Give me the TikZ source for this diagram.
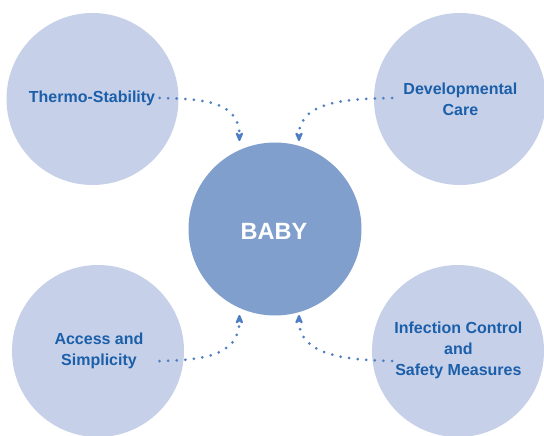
\documentclass[tikz,border=0pt]{standalone}
\usepackage{fontspec}
\setmainfont{Liberation Sans}
\usetikzlibrary{arrows.meta}
\definecolor{outerfill}{HTML}{C6D0E8}
\definecolor{innerfill}{HTML}{819FCC}
\definecolor{labelblue}{HTML}{1B5FAA}
\definecolor{arrowblue}{HTML}{4F7FC2}
\tikzset{
  outercircle/.style={circle, fill=outerfill, draw=none, minimum size=172pt, inner sep=0pt},
  innercircle/.style={circle, fill=innerfill, draw=none, minimum size=173pt, inner sep=0pt},
  lbl/.style={text=labelblue, font=\fontsize{16}{21}\selectfont\bfseries, align=center, inner sep=0pt},
  dotarrow/.style={arrowblue, line width=3pt, line cap=round, dash pattern=on 0pt off 8.6pt,
    -{Stealth[length=12pt, width=10pt, inset=4pt, round=false, line cap=butt]}}
}
\begin{document}
\begin{tikzpicture}[x=1pt, y=-1pt]
\clip (0,0) rectangle (544,436);
\fill[white] (0,0) rectangle (544,436);
% circles
\node[outercircle] (c1) at (92.5,99) {};
\node[outercircle] (c2) at (460,99) {};
\node[outercircle] (c3) at (98,351) {};
\node[outercircle] (c4) at (458,351) {};
\node[innercircle] (baby) at (275,229) {};
\node[text=white, font=\fontsize{23.5}{26}\selectfont\bfseries, inner sep=0pt] (babytxt) at (274,231) {BABY};
% labels
\node[lbl] (thermo) at (92,98) {Thermo-Stability};
\node[lbl] (dev) at (460.4,99) {Developmental\\Care};
\node[lbl] (access) at (99,351) {Access and\\Simplicity};
\node[lbl] (infect) at (458.4,350.5) {Infection Control\\and\\Safety Measures};
% connector anchor points
\coordinate (s1) at (159.5,98);
\coordinate (e1) at (239.4,141);
\coordinate (s2) at (392,98);
\coordinate (e2) at (299,141);
\coordinate (s3) at (159.5,361);
\coordinate (e3) at (239.4,315);
\coordinate (s4) at (392,361);
\coordinate (e4) at (299,315);
% connectors
\draw[dotarrow] (s1) .. controls (200,99) and (239.4,100) .. (e1);
\draw[dotarrow] (s2) .. controls (351,99) and (299,100) .. (e2);
\draw[dotarrow] (s3) .. controls (200,360) and (239.4,357) .. (e3);
\draw[dotarrow] (s4) .. controls (351,360) and (299,357) .. (e4);
\end{tikzpicture}
\end{document}
